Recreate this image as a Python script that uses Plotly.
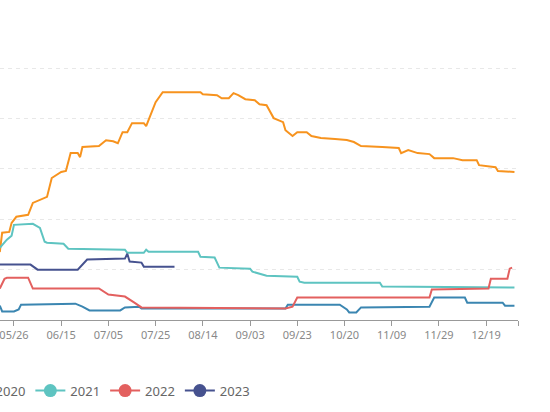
import plotly.graph_objects as go

# season curves at the turning points (month/day, value)
s2019_days = ["05/20", "05/21", "05/26", "05/28", "05/29", "06/21", "06/24", "06/27", "07/10", "07/12",
              "07/18", "07/19", "09/18", "09/19", "10/18", "10/21", "10/22", "10/25", "10/27", "11/25",
              "11/27", "12/10", "12/11", "12/26", "12/27", "12/31"]
s2019_vals = [5.7, 3.4, 3.4, 4.2, 6.1, 6.5, 5.3, 3.8, 3.8, 5.0,
              5.3, 4.6, 4.6, 6.1, 6.1, 4.2, 3.0, 3.0, 5.0, 5.3,
              8.9, 8.9, 6.9, 6.9, 5.7, 5.7]

s2020_days = ["05/20", "05/21", "05/24", "05/25", "05/27", "06/01", "06/03", "06/09", "06/11", "06/15",
              "06/17", "06/19", "06/22", "06/23", "06/24", "07/01", "07/04", "07/07", "07/09", "07/11",
              "07/13", "07/15", "07/20", "07/21", "07/22", "07/25", "07/28", "08/13", "08/14", "08/20",
              "08/22", "08/25", "08/27", "08/29", "09/01", "09/05", "09/07", "09/10", "09/13", "09/17",
              "09/18", "09/21", "09/23", "09/27", "09/29", "10/10", "10/16", "10/21", "10/24", "10/27",
              "11/05", "11/12", "11/13", "11/16", "11/20", "11/25", "11/27", "12/05", "12/09", "12/15",
              "12/16", "12/23", "12/24", "12/31"]
s2020_vals = [27.0, 34.7, 35.0, 38.6, 41.0, 41.8, 46.5, 48.9, 56.4, 58.8,
              59.2, 66.3, 66.3, 64.7, 68.7, 69.1, 71.4, 71.0, 70.2, 74.6,
              74.6, 78.2, 78.2, 77.0, 79.4, 86.5, 90.5, 90.5, 89.7, 89.3,
              88.1, 88.1, 90.1, 89.3, 87.7, 87.3, 85.7, 85.3, 80.2, 78.6,
              75.4, 73.1, 74.6, 74.6, 73.1, 72.3, 71.9, 71.5, 70.7, 69.1,
              68.7, 68.3, 66.3, 67.5, 66.3, 65.9, 64.3, 64.3, 63.5, 63.5,
              61.5, 60.7, 59.2, 58.8]

s2021_days = ["05/20", "05/23", "05/25", "05/26", "06/03", "06/06", "06/08", "06/09", "06/16", "06/18",
              "07/12", "07/13", "07/20", "07/21", "07/22", "08/12", "08/13", "08/19", "08/21", "09/03",
              "09/04", "09/10", "09/23", "09/24", "09/26", "11/04", "11/05", "12/31"]
s2021_vals = [28.7, 31.9, 33.5, 37.8, 38.2, 36.6, 31.1, 30.7, 30.3, 28.3,
              27.9, 26.7, 26.7, 27.9, 27.1, 27.1, 25.1, 24.8, 20.8, 20.4,
              19.2, 17.6, 17.2, 15.2, 14.8, 14.8, 13.3, 12.9]

s2022_days = ["05/20", "05/22", "05/23", "06/01", "06/03", "07/01", "07/05", "07/12", "07/16", "07/19",
              "09/18", "09/21", "09/23", "11/25", "11/26", "12/20", "12/21", "12/28", "12/29", "12/30"]
s2022_vals = [12.5, 16.4, 16.8, 16.8, 12.5, 12.5, 10.1, 9.3, 6.9, 5.0,
              4.6, 5.3, 8.9, 8.9, 12.1, 12.5, 16.4, 16.4, 20.4, 20.8]

s2023_days = ["05/20", "06/02", "06/05", "06/22", "06/26", "07/12", "07/13", "07/14", "07/19", "07/20",
              "08/02"]
s2023_vals = [22.0, 22.0, 20.0, 20.0, 24.0, 24.4, 26.3, 23.2, 22.8, 21.2,
              21.2]

tick_days = ["05/26", "06/15", "07/05", "07/25", "08/14", "09/03", "09/23", "10/20", "11/09", "11/29", "12/19"]

series = [
    ("2019", s2019_days, s2019_vals, "#3b86b1"),
    ("2020", s2020_days, s2020_vals, "#f7931e"),
    ("2021", s2021_days, s2021_vals, "#5ec4c1"),
    ("2022", s2022_days, s2022_vals, "#e3605f"),
    ("2023", s2023_days, s2023_vals, "#46528f"),
]


def to_date(md):
    return "2023-" + md.replace("/", "-")


fig = go.Figure()
for name, days, vals, color in series:
    fig.add_trace(go.Scatter(x=[to_date(d) for d in days], y=vals, mode="lines",
                             line=dict(color=color, width=2), showlegend=False, hoverinfo="skip"))
    # legend entry with the line + dot icon
    fig.add_trace(go.Scatter(x=[None], y=[None], mode="lines+markers", name=name,
                             line=dict(color=color, width=2), marker=dict(color=color, size=13)))

tick_vals = [to_date(d) for d in tick_days] + ["2024-01-01 12:00"]
tick_text = tick_days + [""]

fig.update_layout(
    width=550, height=412,
    margin=dict(l=0, r=32, t=66.7, b=91.5, autoexpand=False),
    plot_bgcolor="white", paper_bgcolor="white",
    font=dict(family="Noto Sans", size=11, color="#666"),
    legend=dict(orientation="h", x=-0.23, xanchor="left", y=-0.279, yanchor="middle",
                font=dict(size=13, color="#666"), bgcolor="rgba(0,0,0,0)"),
    xaxis=dict(
        range=["2023-05-20 02:00", "2024-01-01 12:00"],
        rangebreaks=[dict(bounds=["2023-10-01", "2023-10-08"])],
        tickvals=tick_vals, ticktext=tick_text, ticklabeloverflow="allow",
        showgrid=False, showline=True, linecolor="#999", linewidth=1,
        ticks="outside", ticklen=5, tickcolor="#999",
        tickfont=dict(size=11, color="#888"),
    ),
    yaxis=dict(
        range=[0, 100.5], dtick=20, showticklabels=False, zeroline=False,
        showgrid=True, gridcolor="#e8e8e8", griddash="4px,4px", gridwidth=1,
    ),
)

# page margin off so the chart sits at the window corner
fig.write_html("out.html", config={"displayModeBar": False},
               post_script="document.body.style.margin='0';")
